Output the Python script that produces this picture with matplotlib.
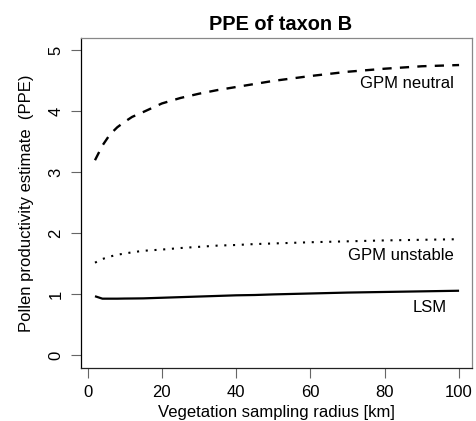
import matplotlib
matplotlib.use("Agg")
import matplotlib.pyplot as plt

plt.rcParams['font.family'] = ['Liberation Sans', 'DejaVu Sans']

radius = [2, 4, 6, 8, 10, 12, 15, 20, 25, 30, 35, 40, 45, 50, 60, 70, 80, 90, 100]
gpm_neutral = [3.20, 3.44, 3.62, 3.74, 3.83, 3.91, 3.99, 4.13, 4.22, 4.29, 4.35,
               4.40, 4.45, 4.50, 4.58, 4.65, 4.70, 4.74, 4.76]
gpm_unstable = [1.52, 1.58, 1.62, 1.65, 1.67, 1.69, 1.715, 1.735, 1.76, 1.78, 1.80,
                1.81, 1.825, 1.835, 1.855, 1.87, 1.885, 1.895, 1.905]
lsm = [0.97, 0.93, 0.93, 0.93, 0.932, 0.933, 0.935, 0.945, 0.955, 0.965, 0.975,
       0.985, 0.99, 1.0, 1.015, 1.03, 1.04, 1.05, 1.06]

xticks = [0, 20, 40, 60, 80, 100]
yticks = [0, 1, 2, 3, 4, 5]
title = "PPE of taxon B"
xlabel = "Vegetation sampling radius [km]"
ylabel = "Pollen productivity estimate  (PPE)"

W, H = 476, 421
fig = plt.figure(figsize=(W / 100, H / 100), dpi=100)
left, right, top, bottom = 80.5, 471.7, 38.2, 367.6
ax = fig.add_axes([left / W, 1 - bottom / H, (right - left) / W, (bottom - top) / H])

ax.plot(radius, gpm_neutral, color='black', lw=1.7, linestyle=(0, (3.9, 3.5)))
ax.plot(radius, gpm_unstable, color='black', lw=1.5, linestyle=(0, (1, 3.2)))
ax.plot(radius, lsm, color='black', lw=1.6, solid_capstyle='butt')

fs = 12
ax.text(98.7, 4.377, "GPM neutral", ha='right', va='baseline', fontsize=fs)
ax.text(98.7, 1.557, "GPM unstable", ha='right', va='baseline', fontsize=fs)
ax.text(96.8, 0.71, "LSM", ha='right', va='baseline', fontsize=fs)

ax.set_xlim(-1.9, 103.4)
ax.set_ylim(-0.2, 5.2)
ax.set_xticks(xticks)
ax.set_yticks(yticks)
ax.set_yticklabels([str(v) for v in yticks], rotation=90, va='center')
ax.tick_params(axis='both', direction='out', length=7.2, width=0.8, color='#666666',
               labelsize=fs, pad=5)

ax.spines['left'].set_color('black')
ax.spines['bottom'].set_color('#222222')
ax.spines['top'].set_color('#888888')
ax.spines['right'].set_color('#888888')
for s in ax.spines.values():
    s.set_linewidth(0.9)

fig.text(281 / W, 1 - 30 / H, title, ha='center', va='baseline',
         fontsize=14.4, fontweight='bold')
fig.text(((left + right) / 2) / W, 1 - 417 / H, xlabel, ha='center', va='baseline',
         fontsize=fs)
fig.text(27 / W, 1 - ((top + bottom) / 2) / H, ylabel, ha='center', va='center',
         rotation=90, fontsize=fs)

fig.savefig("out.png", dpi=100)
